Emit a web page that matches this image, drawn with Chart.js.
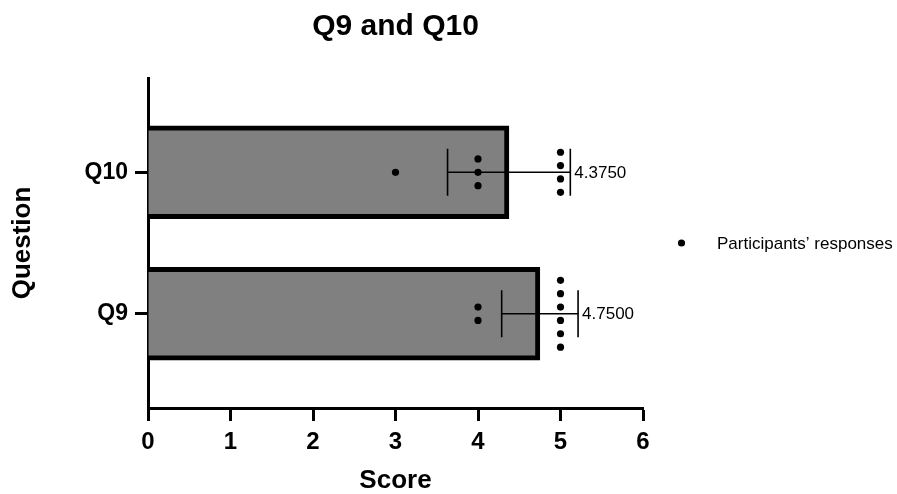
<!DOCTYPE html>
<html>
<head>
<meta charset="utf-8">
<title>Q9 and Q10</title>
<script src="https://cdn.jsdelivr.net/npm/chart.js@4/dist/chart.umd.min.js"></script>
<style>
  html, body { margin: 0; padding: 0; background: #ffffff; }
  #wrap { width: 897px; height: 494px; position: relative; }
</style>
</head>
<body>
<div id="wrap"><canvas id="chart"></canvas></div>
<script>
// Questions, listed top to bottom, and their row positions on the y axis
const questions = ['Q10', 'Q9'];
const questionRows = [2, 1];

// Mean score and standard deviation for each question
const meanScores = [4.375, 4.75];
const sdScores = [0.744, 0.463];

// Individual participant responses for each question
const responsesQ10 = [3, 4, 4, 4, 5, 5, 5, 5];
const responsesQ9 = [4, 4, 5, 5, 5, 5, 5, 5];
const responses = [responsesQ10, responsesQ9];

// Score axis ticks
const scoreTicks = [0, 1, 2, 3, 4, 5, 6];

const FONT = '"Liberation Sans", Arial, Helvetica, sans-serif';
const DOT_STEP = 0.0945; // vertical spacing between stacked dots, in row units

// Stack equal responses vertically around the row centre
function swarmPoints() {
  const pts = [];
  responses.forEach((list, i) => {
    const counts = {};
    list.forEach(v => { counts[v] = (counts[v] || 0) + 1; });
    Object.keys(counts).forEach(k => {
      const n = counts[k];
      for (let j = 0; j < n; j++) {
        pts.push({ x: Number(k), y: questionRows[i] + (j - (n - 1) / 2) * DOT_STEP });
      }
    });
  });
  return pts;
}

// Error bars (mean ± SD) with the mean printed beside the right cap
const errorBars = {
  id: 'errorBars',
  afterDatasetDraw(chart, args) {
    if (args.index !== 0) return;
    const { ctx, scales: { x, y } } = chart;
    ctx.save();
    ctx.strokeStyle = '#000';
    ctx.lineWidth = 1.6;
    const cap = 23.5;
    questions.forEach((q, i) => {
      const cy = y.getPixelForValue(questionRows[i]);
      const lo = x.getPixelForValue(meanScores[i] - sdScores[i]);
      const hi = x.getPixelForValue(meanScores[i] + sdScores[i]);
      ctx.beginPath();
      ctx.moveTo(lo, cy); ctx.lineTo(hi, cy);
      ctx.moveTo(lo, cy - cap); ctx.lineTo(lo, cy + cap);
      ctx.moveTo(hi, cy - cap); ctx.lineTo(hi, cy + cap);
      ctx.stroke();
      ctx.fillStyle = '#000';
      ctx.font = '17px ' + FONT;
      ctx.textAlign = 'left';
      ctx.textBaseline = 'middle';
      ctx.fillText(meanScores[i].toFixed(4), hi + 4, cy + 1);
    });
    ctx.restore();
  }
};

// Legend entry for the response dots, to the right of the plot
const dotLegend = {
  id: 'dotLegend',
  afterDraw(chart) {
    const { ctx, chartArea } = chart;
    const cy = chartArea.top + (chartArea.bottom - chartArea.top) / 2;
    ctx.save();
    ctx.fillStyle = '#000';
    ctx.beginPath();
    ctx.arc(chartArea.right + 38.5, cy, 3.6, 0, Math.PI * 2);
    ctx.fill();
    ctx.font = '17px ' + FONT;
    ctx.textAlign = 'left';
    ctx.textBaseline = 'middle';
    ctx.fillText('Participants\u2019 responses', chartArea.right + 74, cy + 1);
    ctx.restore();
  }
};

new Chart(document.getElementById('chart'), {
  data: {
    datasets: [
      {
        type: 'bar',
        label: 'Mean score',
        data: questions.map((q, i) => ({ x: meanScores[i], y: questionRows[i] })),
        backgroundColor: '#808080',
        borderColor: '#000',
        borderWidth: 5,
        borderSkipped: 'start',
        barThickness: 93,
        order: 2
      },
      {
        type: 'scatter',
        label: 'Participants\u2019 responses',
        data: swarmPoints(),
        backgroundColor: '#000',
        borderWidth: 0,
        pointRadius: 3.6,
        pointHoverRadius: 3.6,
        order: 1
      }
    ]
  },
  options: {
    indexAxis: 'y',
    responsive: true,
    maintainAspectRatio: false,
    animation: false,
    layout: { padding: { top: 0, right: 254, bottom: 0, left: 0 } },
    plugins: {
      legend: { display: false },
      tooltip: { enabled: false },
      title: {
        display: true,
        text: 'Q9 and Q10',
        fullSize: false,
        color: '#000',
        font: { family: FONT, size: 30, weight: 'bold' },
        padding: { top: 9, bottom: 33 }
      }
    },
    scales: {
      x: {
        type: 'linear',
        position: 'bottom',
        min: 0,
        max: 6,
        offset: false,
        afterBuildTicks(scale) { scale.ticks = scoreTicks.map(v => ({ value: v })); },
        afterFit(scale) { scale.height = 86; },
        grid: { offset: false, drawOnChartArea: false, drawTicks: true, tickLength: 13, tickWidth: 3, tickColor: '#000' },
        border: { display: true, color: '#000', width: 3 },
        ticks: { color: '#000', padding: 7, font: { family: FONT, size: 24, weight: 'bold' } },
        title: {
          display: true,
          text: 'Score',
          color: '#000',
          font: { family: FONT, size: 26, weight: 'bold', lineHeight: 1.0 },
          padding: { top: 4, bottom: 0 }
        }
      },
      y: {
        type: 'linear',
        position: 'left',
        min: 1 / 3,
        max: 8 / 3,
        offset: false,
        afterBuildTicks(scale) { scale.ticks = questionRows.map(v => ({ value: v })); },
        afterFit(scale) { scale.width = 148; },
        grid: { offset: false, drawOnChartArea: false, drawTicks: true, tickLength: 13, tickWidth: 3, tickColor: '#000' },
        border: { display: true, color: '#000', width: 3 },
        ticks: {
          color: '#000',
          padding: 7,
          font: { family: FONT, size: 23, weight: 'bold' },
          callback(value) {
            const i = questionRows.indexOf(value);
            return i >= 0 ? questions[i] : '';
          }
        },
        title: {
          display: true,
          text: 'Question',
          color: '#000',
          font: { family: FONT, size: 26, weight: 'bold' },
          padding: { top: 7, bottom: 0 }
        }
      }
    }
  },
  plugins: [errorBars, dotLegend]
});
</script>
</body>
</html>
